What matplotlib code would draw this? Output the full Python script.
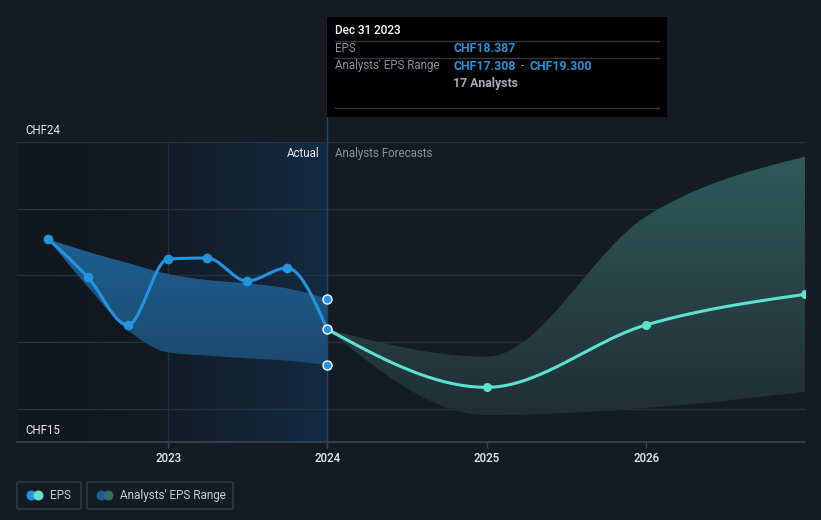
import numpy as np
import matplotlib
matplotlib.use("Agg")
import matplotlib.pyplot as plt
import matplotlib.dates as mdates
import matplotlib.transforms as mtransforms
from matplotlib.colors import LinearSegmentedColormap
from matplotlib.patches import PathPatch, Rectangle, FancyBboxPatch, Ellipse
from matplotlib.lines import Line2D
import pandas as pd

# ---------------- data ----------------
actual_dates = ["2022-03-31", "2022-06-30", "2022-09-30", "2022-12-31",
                "2023-03-31", "2023-06-30", "2023-09-30", "2023-12-31"]
actual_eps = [21.09, 19.95, 18.51, 20.49, 20.52, 19.83, 20.22, 18.387]
actual_range_high = [21.09, 20.71, 20.37, 20.04, 19.86, 19.76, 19.61, 19.300]
actual_range_low = [21.09, 19.66, 18.36, 17.69, 17.59, 17.51, 17.44, 17.308]

forecast_dates = ["2023-12-31", "2024-12-31", "2025-12-31", "2026-12-31"]
forecast_eps = [18.387, 16.64, 18.51, 19.43]
forecast_high = [18.387, 17.56, 21.76, 23.56]
forecast_low = [18.387, 15.81, 16.02, 16.51]

year_ticks = ["2023", "2024", "2025", "2026"]
y_label_values = [24, 15]
y_label_texts = ["CHF24", "CHF15"]
grid_values = [16, 18, 20, 22, 24]

tooltip_date = "Dec 31 2023"
tooltip_eps = "CHF18.387"
tooltip_low = "CHF17.308"
tooltip_high = "CHF19.300"
tooltip_analysts = "17 Analysts"

# ---------------- style ----------------
BG = "#151b25"
BLUE = "#2394df"
TEAL = "#5ce3c9"
GRID = "#2a313b"
AXIS = "#3d444e"
WHITE = "#e8eaed"
GRAY = "#8d939b"

plt.rcParams['font.family'] = ['Roboto', 'DejaVu Sans']

W, H = 821, 520
fig = plt.figure(figsize=(W / 100, H / 100), dpi=100, facecolor=BG)


def fx(px):
    return px / W


def fy(py):
    return 1 - py / H


ax_left, ax_right, ax_top, ax_bottom = 17, 805, 142, 442
ax = fig.add_axes([fx(ax_left), fy(ax_bottom), (ax_right - ax_left) / W, (ax_bottom - ax_top) / H])
ax.set_facecolor(BG)
for s in ax.spines.values():
    s.set_visible(False)

to_num = lambda lst: mdates.date2num(pd.to_datetime(lst).to_pydatetime())
xa = to_num(actual_dates)
xf = to_num(forecast_dates)
xmin = mdates.date2num(pd.Timestamp("2022-01-19").to_pydatetime())
xmax = mdates.date2num(pd.Timestamp("2026-12-31").to_pydatetime())
x2023 = mdates.date2num(pd.Timestamp("2023-01-01").to_pydatetime())
x2024 = xf[0]
ymin, ymax = 15, 24


def monotone(x, y, n=60):
    """d3 curveMonotoneX style rendering of a series."""
    x = np.asarray(x, float)
    y = np.asarray(y, float)
    k = len(x)
    h = np.diff(x)
    s = np.diff(y) / h
    t = np.zeros(k)
    for i in range(1, k - 1):
        h0, h1 = h[i - 1], h[i]
        s0, s1 = s[i - 1], s[i]
        p = (s0 * h1 + s1 * h0) / (h0 + h1)
        t[i] = (np.sign(s0) + np.sign(s1)) * min(abs(s0), abs(s1), 0.5 * abs(p))
    if k > 2:
        t[0] = (3 * s[0] - t[1]) / 2
        t[-1] = (3 * s[-1] - t[-2]) / 2
    else:
        t[0] = t[-1] = s[0]
    xs, ys = [], []
    for i in range(k - 1):
        u = np.linspace(0, 1, n, endpoint=(i == k - 2))
        hh = h[i]
        h00 = 2 * u**3 - 3 * u**2 + 1
        h10 = u**3 - 2 * u**2 + u
        h01 = -2 * u**3 + 3 * u**2
        h11 = u**3 - u**2
        xs.append(x[i] + u * hh)
        ys.append(h00 * y[i] + h10 * hh * t[i] + h01 * y[i + 1] + h11 * hh * t[i + 1])
    return np.concatenate(xs), np.concatenate(ys)


# ---------- background regions ----------
dark = np.linspace(0, 1, 256).reshape(1, -1)
cm_dark = LinearSegmentedColormap.from_list("d", ["#12161d", "#141a22"])
ax.imshow(dark, extent=[xmin, x2023, ymin, ymax], aspect='auto', cmap=cm_dark, zorder=0)
cm_last = LinearSegmentedColormap.from_list("l", ["#121c27", "#132b42"])
ax.imshow(dark, extent=[x2023, x2024, ymin, ymax], aspect='auto', cmap=cm_last, zorder=0)
ax.axvline(x2023, color="#1b3349", lw=0.9, zorder=1)

# grid
for g in grid_values:
    ax.axhline(g, color=GRID, lw=1, zorder=1)
ax.axhline(15, color=AXIS, lw=1.2, zorder=1, clip_on=False)


def gradient_band(x, lo, hi, c_top, c_bot, z):
    sx, sl = monotone(x, lo)
    _, sh = monotone(x, hi)
    poly = ax.fill_between(sx, sl, sh, facecolor='none', edgecolor='none')
    path = poly.get_paths()[0]
    patch = PathPatch(path, transform=ax.transData, facecolor='none', edgecolor='none')
    ax.add_patch(patch)
    cmap = LinearSegmentedColormap.from_list("g", [c_bot, c_top])
    grad = np.linspace(0, 1, 256).reshape(-1, 1)
    lo_y, hi_y = min(sl.min(), sh.min()), max(sl.max(), sh.max())
    im = ax.imshow(grad, extent=[sx.min(), sx.max(), lo_y, hi_y], origin='lower',
                   aspect='auto', cmap=cmap, zorder=z)
    im.set_clip_path(patch)


gradient_band(xa, actual_range_low, actual_range_high, "#1f5f8f", "#1b4a70", 2)
gradient_band(xf, forecast_low, forecast_high, "#2f5a59", "#202e35", 2)

# vertical "today" line
trans = mtransforms.blended_transform_factory(ax.transData, ax.transAxes)
ax.plot([x2024, x2024], [(ax_bottom - 447) / 300, (ax_bottom - 17) / 300], color="#284663",
        lw=1, transform=trans, clip_on=False, zorder=3)

# lines
sx, sy = monotone(xa, actual_eps)
ax.plot(sx, sy, color=BLUE, lw=2.2, zorder=5, solid_capstyle='round')
ax.plot(xa[:-1], actual_eps[:-1], 'o', color=BLUE, ms=6, zorder=6)

sx, sy = monotone(xf, forecast_eps)
ax.plot(sx, sy, color=TEAL, lw=2.2, zorder=5, solid_capstyle='round')
ax.plot(xf[1:], forecast_eps[1:], 'o', color=TEAL, ms=5.5, zorder=6)

# markers at today
ax.plot([x2024] * 3, [actual_range_high[-1], actual_eps[-1], actual_range_low[-1]],
        'o', color=BLUE, ms=6.5, mec='white', mew=1, zorder=7, clip_on=False)

ax.set_xlim(xmin, xmax)
ax.set_ylim(ymin, ymax)

# ticks
ax.set_yticks([])
tick_pos = to_num([f"{y}-01-01" for y in year_ticks])
ax.set_xticks(tick_pos)
ax.set_xticklabels(year_ticks)
ax.tick_params(axis='x', colors=AXIS, length=4, width=1, pad=3, labelsize=8.3, labelcolor=WHITE)
for lab in ax.get_xticklabels():
    lab.set_fontweight('medium')

# y labels
for v, t in zip(y_label_values, y_label_texts):
    ax.annotate(t, xy=(0, v), xycoords=('axes fraction', 'data'), xytext=(5.8, 8.6),
                textcoords='offset points', va='center', ha='left', color=WHITE, fontsize=8.3)

# Actual / forecasts labels
ax.annotate("Actual", xy=(x2024, 24), xytext=(-5.8, -8.6), textcoords='offset points',
            ha='right', va='center', color=WHITE, fontsize=8.3)
ax.annotate("Analysts Forecasts", xy=(x2024, 24), xytext=(5.8, -8.6), textcoords='offset points',
            ha='left', va='center', color=GRAY, fontsize=8.3)

# ---------- tooltip ----------
fig.add_artist(Rectangle((fx(327), fy(117)), (667 - 327) / W, 100 / H, transform=fig.transFigure,
                         facecolor="#000000", edgecolor='none', zorder=10))
for yy in (41, 58, 108):
    fig.add_artist(Line2D([fx(335), fx(659)], [fy(yy), fy(yy)], color="#33363b", lw=1,
                          transform=fig.transFigure, zorder=11))
fig.text(fx(335), fy(31), tooltip_date, color="white", fontsize=8.5, va='center', ha='left', zorder=12,
         fontweight='medium')
fig.text(fx(335), fy(48.5), "EPS", color=GRAY, fontsize=8.3, va='center', ha='left', zorder=12)
fig.text(fx(453), fy(48.5), tooltip_eps, color=BLUE, fontsize=8.8, va='center', ha='left', zorder=12,
         fontweight='bold')
fig.text(fx(335), fy(66), "Analysts' EPS Range", color=GRAY, fontsize=8.3, va='center', ha='left', zorder=12)
fig.text(fx(453), fy(66), tooltip_low, color=BLUE, fontsize=8.8, va='center', ha='left', zorder=12,
         fontweight='bold')
fig.text(fx(522.5), fy(66), "-", color=GRAY, fontsize=8.5, va='center', ha='center', zorder=12)
fig.text(fx(530), fy(66), tooltip_high, color=BLUE, fontsize=8.8, va='center', ha='left', zorder=12,
         fontweight='bold')
fig.text(fx(453), fy(83), tooltip_analysts, color="#a8acb2", fontsize=8.8, va='center', ha='left', zorder=12,
         fontweight='bold')


# ---------- legend ----------
def legend_box(x0, x1, c1, c2, label, tx):
    fig.add_artist(FancyBboxPatch((fx(x0), fy(509)), (x1 - x0) / W, 27 / H,
                                  boxstyle="round,pad=0,rounding_size=0.003",
                                  transform=fig.transFigure, facecolor='none', edgecolor="#3a404a", lw=1))
    fig.add_artist(Ellipse((fx(x0 + 14.5), fy(495.5)), 10 / W, 10 / H, transform=fig.transFigure,
                           facecolor=c1, edgecolor='none'))
    fig.add_artist(Ellipse((fx(x0 + 21.5), fy(495.5)), 10 / W, 10 / H, transform=fig.transFigure,
                           facecolor=c2, edgecolor='none'))
    fig.text(fx(tx), fy(495.5), label, color="#c9ccd1", fontsize=8.5, va='center', ha='left')


legend_box(17, 81, BLUE, TEAL, "EPS", 50)
legend_box(87, 233, "#1f5c8a", "#2f6e6a", "Analysts' EPS Range", 120)

fig.savefig("out.png", dpi=100, facecolor=BG)
